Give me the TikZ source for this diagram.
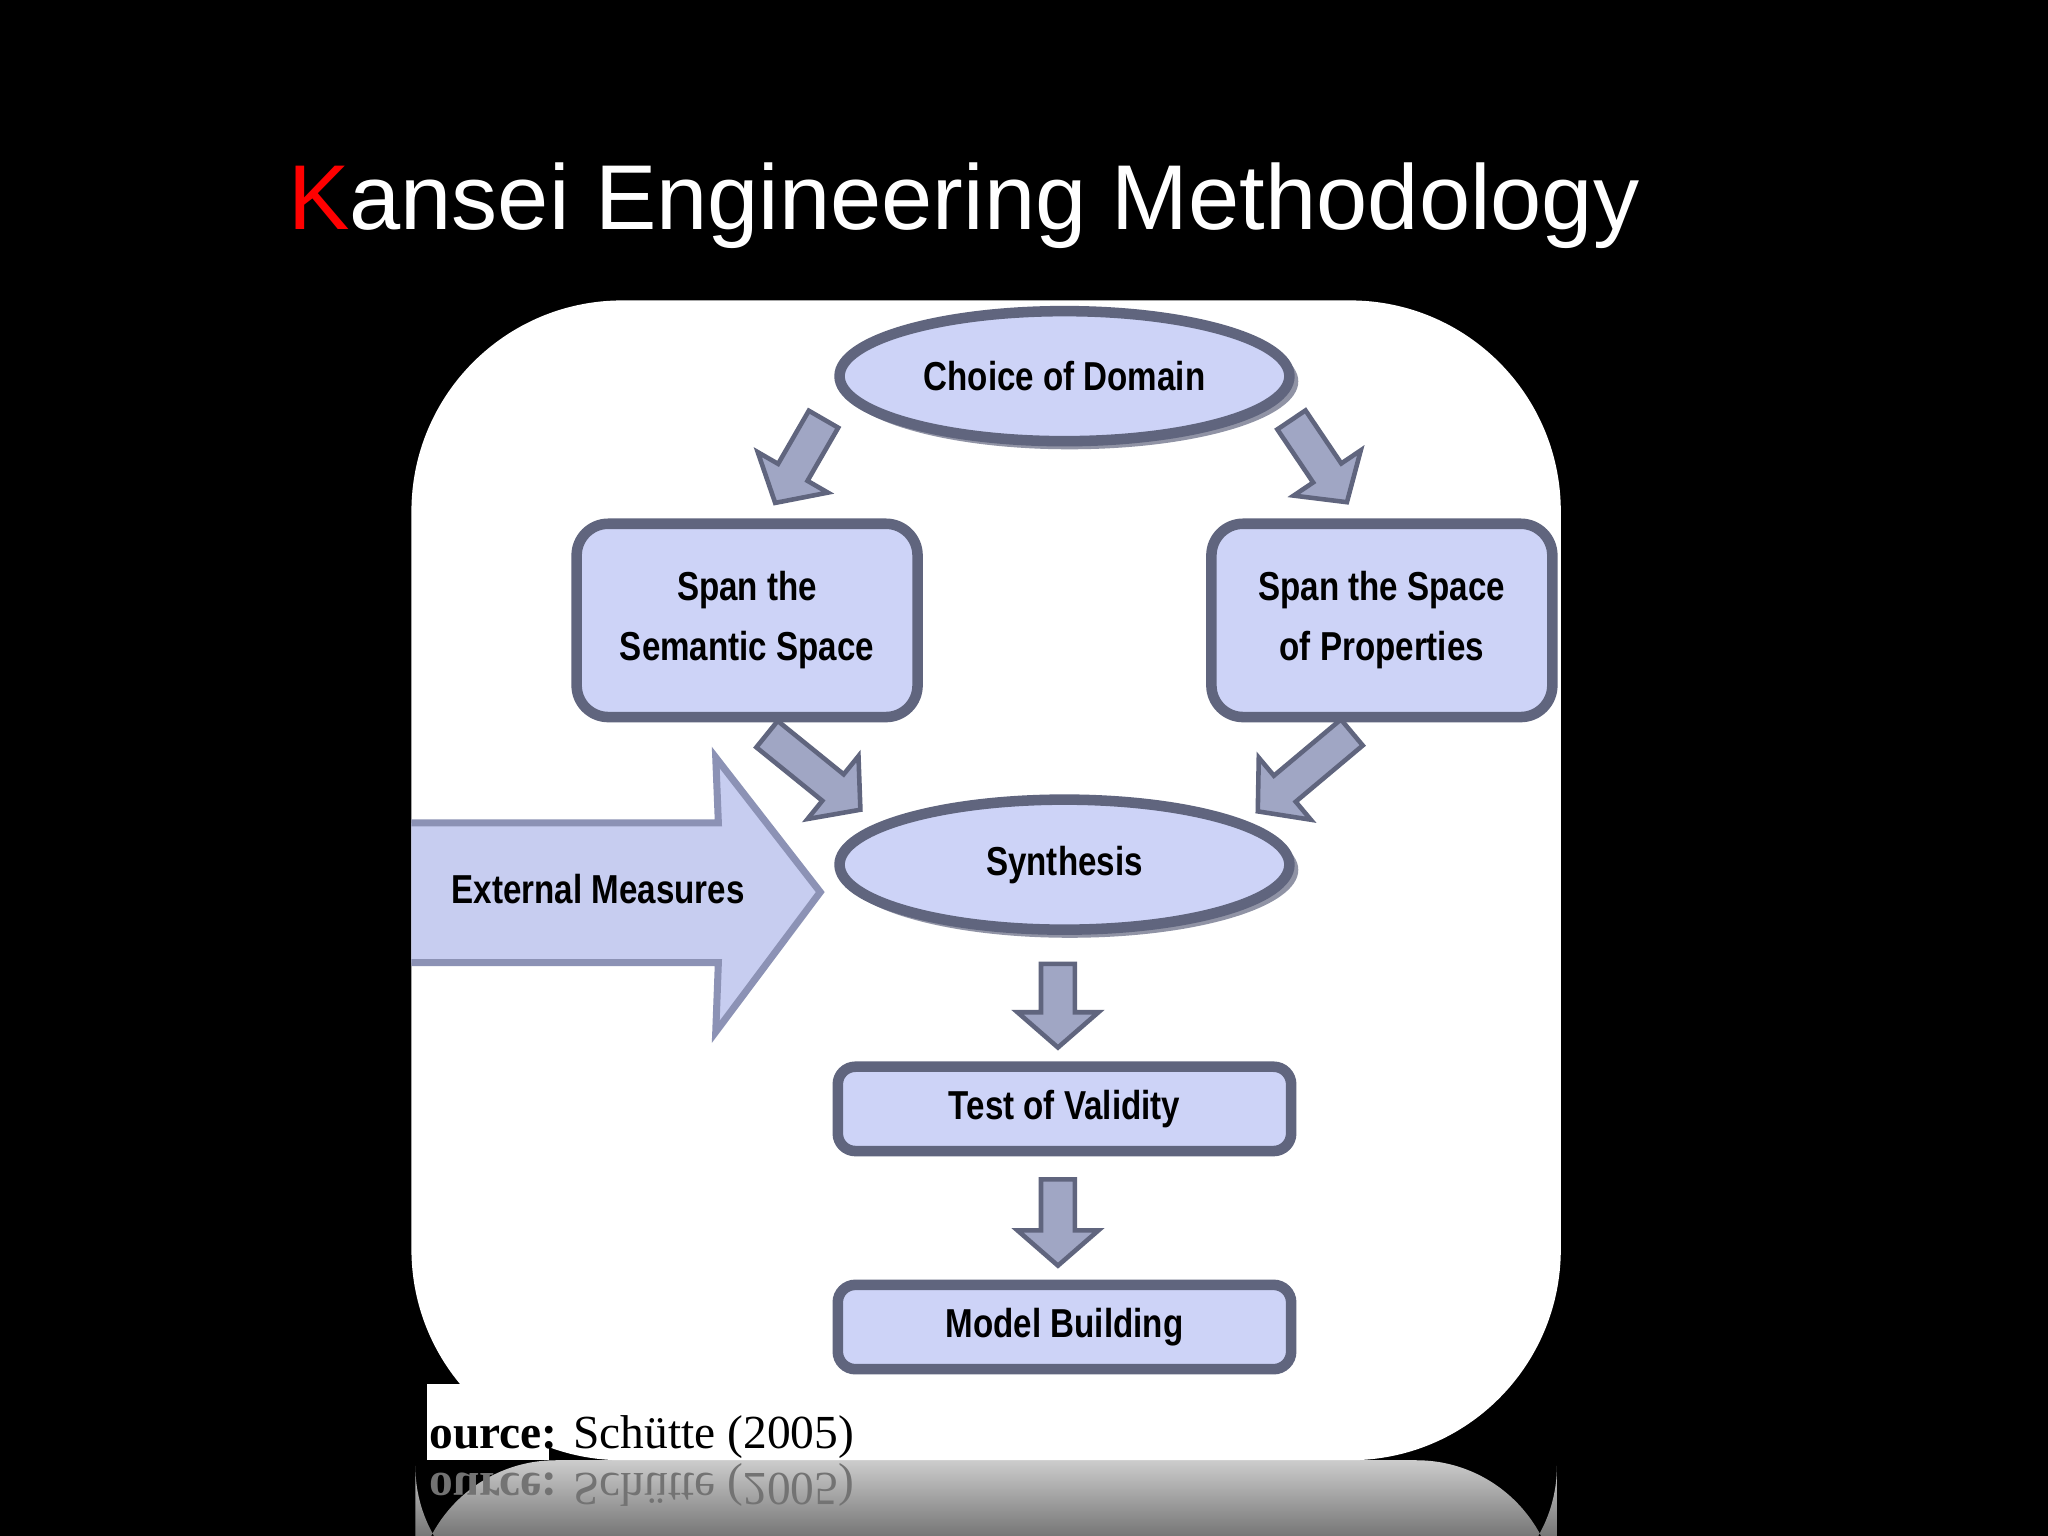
\documentclass[tikz,border=0pt]{standalone}
\usepackage{fontspec}
\setmainfont{Liberation Serif}
\setsansfont{Liberation Sans}
\newfontfamily\condf{Liberation Sans}[FakeStretch=0.82]
\usetikzlibrary{shapes.geometric}
\definecolor{boxfill}{HTML}{CDD3F7}
\definecolor{boxline}{HTML}{60657E}
\definecolor{arrfill}{HTML}{A0A6C4}
\definecolor{bigfill}{HTML}{C7CDF0}
\definecolor{bigline}{HTML}{8C92B5}
\tikzset{
 lbl/.style={font=\condf\bfseries\fontsize{11.5}{15}\selectfont,align=center,text=black},
 ell/.style={ellipse,fill=boxfill,draw=boxline,line width=3pt,minimum width=128pt,minimum height=37pt,lbl},
 rbox/.style={rounded corners=9pt,fill=boxfill,draw=boxline,line width=3pt,lbl},
 blk/.style={fill=arrfill,draw=boxline,line width=1.3pt,line join=miter},
}
\newcommand\blkarrow[4]{% cx cy angle length
 \begin{scope}[shift={(#1,#2)},rotate=#3]
 \draw[blk] (-#4/2,-13) -- (#4/2-27,-13) -- (#4/2-27,-31) -- (#4/2,0) -- (#4/2-27,31) -- (#4/2-27,13) -- (-#4/2,13) -- cycle;
 \end{scope}}
\begin{document}
\begin{tikzpicture}[x=0.013061cm,y=-0.013061cm]
\fill[black] (0,0) rectangle (1568,1176);
\useasboundingbox (0,0) rectangle (1568,1176);
% title
\node[anchor=base west,inner sep=0,font=\sffamily\fontsize{26.2}{32}\selectfont,text=white] (title) at (220,176) {\textcolor{red}{K}ansei Engineering Methodology};
% reflection
\shade[top color=gray!40,bottom color=black!85,rounded corners=40] (318,1118) rectangle (1192,1230);
\begin{scope}
\clip (327,1100) rectangle (1192,1176);
\node[anchor=base west,inner sep=0,yscale=-1,font=\fontsize{13.5}{16}\selectfont,text=black!55] (refl) at (308,1128) {\textbf{Source:} Schütte (2005)};
\end{scope}
% panel
\fill[white,rounded corners=60] (315,230) rectangle (1195,1118);
\begin{scope}
\clip[rounded corners=60] (315,230) rectangle (1195,1118);
\draw[fill=bigfill,draw=bigline,line width=2pt,line join=miter] (310,630) -- (550,630) -- (548,580) -- (628,683) -- (548,790) -- (550,737) -- (310,737) -- cycle;
\end{scope}
\begin{scope}
\clip (327,1060) rectangle (1192,1118);
\fill[white] (327,1060) rectangle (420,1118);
\node[anchor=base west,inner sep=0,font=\fontsize{13.5}{16}\selectfont] (src) at (308,1109) {\textbf{Source:} Schütte (2005)};
\end{scope}
\node[lbl] (ext) at (458,681) {External Measures};
% shadows
\fill[boxline!70] (819,292) ellipse [x radius=175, y radius=52];
\fill[boxline!70] (819,666) ellipse [x radius=175, y radius=52];
% nodes
\node[ell] (dom) at (815,288) {Choice of Domain};
\node[ell] (syn) at (815,662) {Synthesis};
\node[rbox,minimum width=97pt,minimum height=55pt] (sem) at (572,475) {Span the\\[2pt]Semantic Space};
\node[rbox,minimum width=97pt,minimum height=55pt] (prop) at (1058,475) {Span the Space\\[2pt]of Properties};
\node[rbox,rounded corners=5pt,minimum width=129pt,minimum height=24pt] (test) at (815,849) {Test of Validity};
\node[rbox,rounded corners=5pt,minimum width=129pt,minimum height=24pt] (model) at (815,1016) {Model Building};
% block arrows
\blkarrow{612}{353}{240}{74}
\blkarrow{1010}{353}{-56}{76}
\blkarrow{623}{591}{-39}{92}
\blkarrow{999}{591}{220}{94}
\blkarrow{810}{770}{-90}{64}
\blkarrow{810}{936}{-90}{66}
\end{tikzpicture}
\end{document}
